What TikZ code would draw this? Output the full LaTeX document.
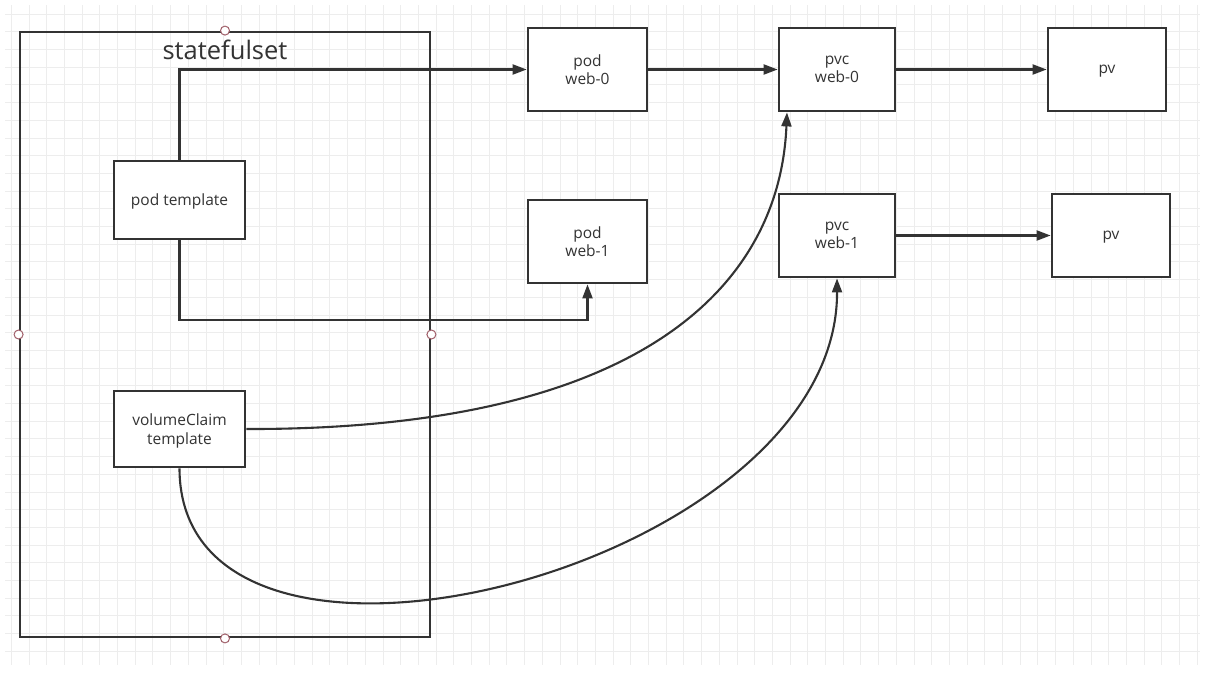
\documentclass[tikz,border=0pt]{standalone}
\usepackage{fontspec}
\setmainfont{Open Sans}
\usetikzlibrary{arrows.meta,calc}
\definecolor{ink}{HTML}{333333}
\definecolor{gridc}{HTML}{EDEDED}
\definecolor{handle}{RGB}{160,95,105}
\tikzset{
  box/.style={draw=ink, line width=2.8pt, fill=white, rectangle, align=center,
    text=ink, font=\fontsize{15.5}{18.5}\selectfont, inner sep=0pt, text depth=0pt},
  conn/.style={draw=ink, line width=2.1pt, -{Triangle[length=14pt,width=10pt]}},
  gridline/.style={draw=gridc, line width=1pt},
  hdl/.style={circle, draw=handle, fill=white, line width=1pt, minimum size=9pt, inner sep=0pt}
}
\begin{document}
\begin{tikzpicture}[x=1pt,y=-1pt]
\useasboundingbox (0,0) rectangle (1206,683);
\fill[white] (0,0) rectangle (1206,683);
% grid
\foreach \i in {0,...,67} \draw[gridline] (11.3+17.7*\i,5) -- (11.3+17.7*\i,665);
\foreach \j in {0,...,36} \draw[gridline] (5,14.1+17.7*\j) -- (1200,14.1+17.7*\j);

% container
\node[box, minimum width=410pt, minimum height=605pt, fill=none] (ss) at (225,334.5) {};
\node[text=ink, font=\fontsize{25.5}{30}\selectfont, anchor=center] (sslabel) at (225,50) {statefulset};

% inner boxes
\node[box, minimum width=131pt, minimum height=78pt] (pt) at (179.5,200) {pod template};
\node[box, minimum width=131pt, minimum height=76pt] (vc) at (179.5,429) {volumeClaim\\template};

% right boxes
\node[box, minimum width=119pt, minimum height=83pt] (pw0) at (587.5,69.5) {pod\\web-0};
\node[box, minimum width=119pt, minimum height=83pt] (pw1) at (587.5,241.5) {pod\\web-1};
\node[box, minimum width=116pt, minimum height=83pt] (pvc0) at (837,69.5) {pvc\\web-0};
\node[box, minimum width=116pt, minimum height=83pt] (pvc1) at (837,235.5) {pvc\\web-1};
\node[box, minimum width=118pt, minimum height=83pt] (pv0) at (1107,69.5) {pv};
\node[box, minimum width=118pt, minimum height=83pt] (pv1) at (1111,235.5) {pv};

% connectors
\draw[conn] (pt.north) |- (pw0.west);
\draw[conn] (pt.south) -- ++(0,80) -| (pw1.south);
\draw[conn] (pw0.east) -- (pvc0.west);
\draw[conn] (pvc0.east) -- (pv0.west);
\draw[conn] (pvc1.east) -- (pv1.west);
\draw[conn] (vc.east) .. controls (650,430) and (780,280) .. ([xshift=-50pt]pvc0.south);
\draw[conn] (vc.south) .. controls (180,735) and (838,570) .. (pvc1.south);

% selection handles
\node[hdl] (h1) at (ss.north) {};
\node[hdl] (h2) at (ss.west) {};
\node[hdl] (h3) at (ss.east) {};
\node[hdl] (h4) at (ss.south) {};
\end{tikzpicture}
\end{document}
